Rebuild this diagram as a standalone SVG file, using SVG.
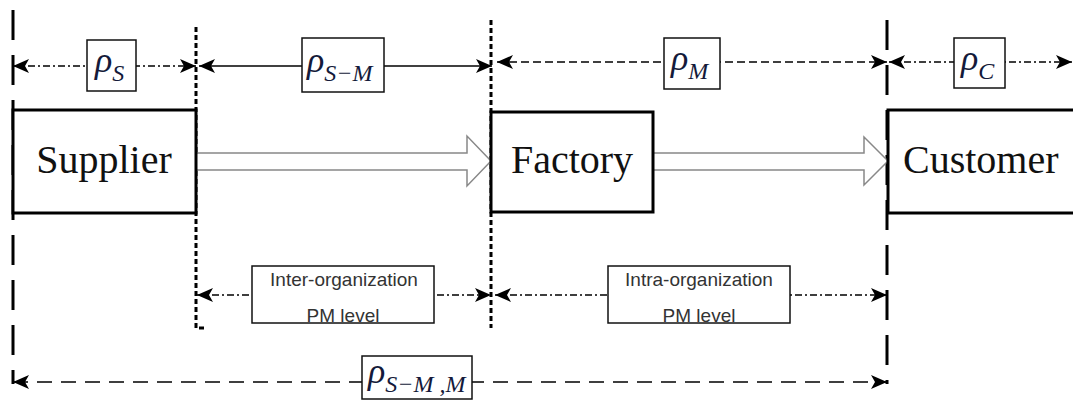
<svg xmlns="http://www.w3.org/2000/svg" width="1073" height="412" viewBox="0 0 1073 412">
<style>
.big{fill:#fff;stroke:#000;stroke-width:3}
.small{fill:#fff;stroke:#111;stroke-width:1.5}
.name{font-family:"Liberation Serif","Times New Roman",serif;font-size:40px;fill:#111}
.rho{font-family:"Liberation Serif","Times New Roman",serif;font-style:italic;font-size:36px;fill:#141a3a}
.sub{font-size:24px}
.lvl{font-family:"Liberation Sans",Arial,sans-serif;font-size:19px;fill:#333;text-anchor:middle}
.vdash{fill:none;stroke:#000;stroke-width:3;stroke-dasharray:30 15}
.vdot{fill:none;stroke:#000;stroke-width:3;stroke-dasharray:5 3}
.dd{fill:none;stroke:#000;stroke-width:1.5;stroke-dasharray:7 3 2 3}
.ds{fill:none;stroke:#000;stroke-width:1.5;stroke-dasharray:8 4}
.solid{fill:none;stroke:#000;stroke-width:1.5}
.long{fill:none;stroke:#000;stroke-width:1.5;stroke-dasharray:15 9}
.block{fill:#fff;stroke:#888;stroke-width:1.5}
</style>
<defs>
<marker id="ah" viewBox="0 0 16 14" refX="16" refY="7" markerWidth="16" markerHeight="14" markerUnits="userSpaceOnUse" orient="auto-start-reverse">
<path d="M0,0 L16,7 L0,14 L4,7 z" fill="#000"/>
</marker>
</defs>
<g id="connectors">
<path class="vdash" d="M13,10 V384"/>
<path class="vdash" d="M887,20 V384"/>
<path class="vdot" d="M196,27 V328 H205"/>
<path class="vdot" d="M491,20 V328"/>
<path class="dd" d="M13,66 H196" marker-start="url(#ah)" marker-end="url(#ah)"/>
<path class="solid" d="M199,66 H492" marker-start="url(#ah)" marker-end="url(#ah)"/>
<path class="ds" d="M497,62 H887" marker-start="url(#ah)" marker-end="url(#ah)"/>
<path class="dd" d="M889,62 H1072" marker-start="url(#ah)" marker-end="url(#ah)"/>
<path class="dd" d="M197,295 H491" marker-start="url(#ah)" marker-end="url(#ah)"/>
<path class="dd" d="M495,295 H887" marker-start="url(#ah)" marker-end="url(#ah)"/>
<path class="long" d="M13,382 H887" marker-start="url(#ah)" marker-end="url(#ah)"/>
<path class="block" d="M197,153 H467 V136 L491,161 L467,186 V170 H197"/>
<path class="block" d="M654,153 H864 V137 L888,161 L864,185 V170 H654"/>
</g>
<g id="supplier">
<rect class="big" x="13" y="110" width="183" height="103"/>
<text class="name" x="104" y="173" text-anchor="middle">Supplier</text>
</g>
<g id="factory">
<rect class="big" x="491" y="112" width="162" height="100"/>
<text class="name" x="572" y="173" text-anchor="middle">Factory</text>
</g>
<g id="customer">
<rect class="big" x="888" y="110" width="200" height="103"/>
<text class="name" x="903" y="173">Customer</text>
</g>
<g id="rho-s">
<rect class="small" x="87" y="40" width="49" height="51"/>
<text class="rho" x="95" y="72">ρ<tspan class="sub" dy="9">S</tspan></text>
</g>
<g id="rho-s-m">
<rect class="small" x="302" y="38" width="82" height="54"/>
<text class="rho" x="307" y="72">ρ<tspan class="sub" dy="9">S−M</tspan></text>
</g>
<g id="rho-m">
<rect class="small" x="664" y="38" width="56" height="51"/>
<text class="rho" x="671" y="70">ρ<tspan class="sub" dy="9">M</tspan></text>
</g>
<g id="rho-c">
<rect class="small" x="954" y="38" width="51" height="50"/>
<text class="rho" x="961" y="70">ρ<tspan class="sub" dy="9">C</tspan></text>
</g>
<g id="inter">
<rect class="small" x="252" y="266" width="182" height="57"/>
<text class="lvl" x="344" y="286">Inter-organization</text>
<text class="lvl" x="343" y="322">PM level</text>
</g>
<g id="intra">
<rect class="small" x="608" y="266" width="182" height="57"/>
<text class="lvl" x="699" y="286">Intra-organization</text>
<text class="lvl" x="699" y="322">PM level</text>
</g>
<g id="rho-smm">
<rect class="small" x="362" y="356" width="110" height="43"/>
<text class="rho" x="368" y="383">ρ<tspan class="sub" dy="9">S−M ,M</tspan></text>
</g>
</svg>
